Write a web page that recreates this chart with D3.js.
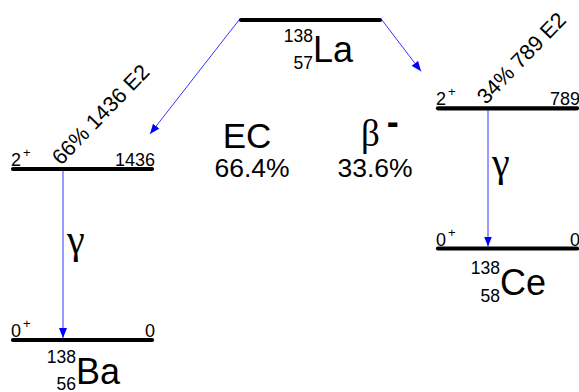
<!DOCTYPE html>
<html>
<head>
<meta charset="utf-8">
<script src="https://cdn.jsdelivr.net/npm/d3@7"></script>
<style>
  html, body { margin: 0; padding: 0; background: #fff; }
  svg { display: block; }
</style>
</head>
<body>
<svg id="chart" width="579" height="392"></svg>
<script>
// ---------------- data ----------------
const nuclei        = ["Ba", "La", "Ce"];
const massNumbers   = [138, 138, 138];
const atomicNumbers = [56, 57, 58];

const levelNucleus  = ["La", "Ba", "Ba", "Ce", "Ce"];
const levelEnergy   = [0, 1436, 0, 789, 0];
const levelSpin     = ["", "2", "0", "2", "0"];
const levelParity   = ["", "+", "+", "+", "+"];
const levelLabel    = ["", "1436", "0", "789", "0"];

const decayModes     = ["EC", "β"];
const decayModeSign  = ["", "-"];
const decayBranches  = ["66.4%", "33.6%"];
const decayTarget    = [1, 3];           // index of fed level
const feedIntensity  = ["66%", "34%"];
const feedEnergy     = ["1436", "789"];
const feedMultipol   = ["E2", "E2"];

const gammaFrom = [1, 3];
const gammaTo   = [2, 4];

// ---------------- layout ----------------
const svg = d3.select("#chart");
const levelWidth = 143;
const sans = "'Liberation Sans', Arial, Helvetica, sans-serif";
const serif = "'Liberation Serif', 'Times New Roman', serif";

const xLeft = d3.scaleOrdinal().domain(nuclei).range([13, 241, 438]);
const yScales = {
  Ba: d3.scaleLinear().domain([0, 1436]).range([340, 169]),
  Ce: d3.scaleLinear().domain([0, 789]).range([248.5, 108.3]),
  La: d3.scaleLinear().domain([0, 1]).range([20, 0])
};
const levels = levelEnergy.map((e, i) => {
  const n = levelNucleus[i];
  const x0 = xLeft(n);
  return { i, n, e, x0, x1: x0 + levelWidth - 4, y: yScales[n](e) };
});

const blue = "#0000ff";
const defs = svg.append("defs");
defs.append("marker")
  .attr("id", "arr").attr("viewBox", "0 0 10 8")
  .attr("refX", 10).attr("refY", 4)
  .attr("markerWidth", 10).attr("markerHeight", 8)
  .attr("markerUnits", "userSpaceOnUse")
  .attr("orient", "auto")
  .append("path").attr("d", "M0,0 L10,4 L0,8 Z").attr("fill", blue);

// level lines
svg.append("g").selectAll("line").data(levels).join("line")
  .attr("x1", d => d.x0).attr("x2", d => d.x1)
  .attr("y1", d => d.y).attr("y2", d => d.y)
  .attr("stroke", "#000").attr("stroke-width", 4.2)
  .attr("stroke-linecap", "round");

// spin/parity labels
const spinG = svg.append("g").attr("font-family", sans);
levels.filter(d => levelSpin[d.i]).forEach(d => {
  const t = spinG.append("text").attr("x", d.x0 - 2).attr("y", d.y - 3)
    .attr("font-size", 18).attr("fill", "#000");
  t.append("tspan").text(levelSpin[d.i]);
  t.append("tspan").attr("dx", 2).attr("dy", -9).attr("font-size", 13).text(levelParity[d.i]);
  spinG.append("text").attr("x", d.x1 + 3).attr("y", d.y - 3)
    .attr("text-anchor", "end").attr("font-size", 18).text(levelLabel[d.i]);
});

// nuclide labels
const nucOffset = { Ba: 63, La: 72, Ce: 62 };
const nucDy = { Ba: [23, 43.5, 49.5], La: [22, 42, 49], Ce: [25, 46.5, 53] };
nuclei.forEach((n, k) => {
  const lv = levels.find(d => d.n === n && d.e === 0);
  const ax = lv.x0 + nucOffset[n];
  const g = svg.append("g").attr("font-family", sans).attr("fill", "#000");
  g.append("text").attr("x", ax).attr("y", lv.y + nucDy[n][0])
    .attr("text-anchor", "end").attr("font-size", 17.5).text(massNumbers[k]);
  g.append("text").attr("x", ax).attr("y", lv.y + nucDy[n][2])
    .attr("text-anchor", "end").attr("font-size", 17.5).text(atomicNumbers[k]);
  g.append("text").attr("x", ax).attr("y", lv.y + nucDy[n][1])
    .attr("font-size", 36).text(n);
});

// decay arrows
const parent = levels[0];
const tipOffsets = [[-2, -35], [-17, -37]];
decayTarget.forEach((ti, k) => {
  const tgt = levels[ti];
  const sx = k === 0 ? parent.x0 - 2 : parent.x1 + 2;
  const tx = (k === 0 ? tgt.x1 : tgt.x0) + tipOffsets[k][0];
  const ty = tgt.y + tipOffsets[k][1];
  svg.append("line").attr("x1", sx).attr("y1", parent.y)
    .attr("x2", tx).attr("y2", ty)
    .attr("stroke", blue).attr("stroke-width", 0.8)
    .attr("marker-end", "url(#arr)");
  // rotated feeding label
  const lx = tgt.x0 + 48, ly = tgt.y - 3;
  svg.append("text").attr("x", lx).attr("y", ly)
    .attr("transform", `rotate(-46,${lx},${ly})`)
    .attr("font-family", sans).attr("font-size", 21.5)
    .text(`${feedIntensity[k]} ${feedEnergy[k]} ${feedMultipol[k]}`);
});

// gamma arrows
gammaFrom.forEach((fi, k) => {
  const a = levels[fi], b = levels[gammaTo[k]];
  const gx = a.x0 + 50;
  svg.append("line").attr("x1", gx).attr("x2", gx)
    .attr("y1", a.y + 2).attr("y2", b.y - 2)
    .attr("stroke", blue).attr("stroke-width", 0.8)
    .attr("marker-end", "url(#arr)");
  svg.append("text").attr("x", gx + 4).attr("y", (a.y + b.y) / 2 - 2)
    .attr("font-family", serif).attr("font-size", 40).text("γ");
});

// decay mode labels
const modeX = [247, 375];
decayModes.forEach((m, k) => {
  if (k === 0) {
    svg.append("text").attr("x", modeX[k]).attr("y", 148)
      .attr("text-anchor", "middle")
      .attr("font-family", sans).attr("font-size", 35).text(m);
  } else {
    const t = svg.append("text").attr("x", modeX[k] - 14).attr("y", 146)
      .attr("font-family", serif).attr("font-size", 37);
    t.append("tspan").text(m);
    t.append("tspan").attr("dx", 7).attr("dy", -12)
      .attr("font-family", sans).attr("font-size", 36).attr("font-weight", "bold")
      .text(decayModeSign[k]);
  }
  svg.append("text").attr("x", modeX[k] + (k ? 0 : 5)).attr("y", 176.5)
    .attr("text-anchor", "middle").attr("font-family", sans)
    .attr("font-size", 26.5).text(decayBranches[k]);
});
</script>
</body>
</html>
